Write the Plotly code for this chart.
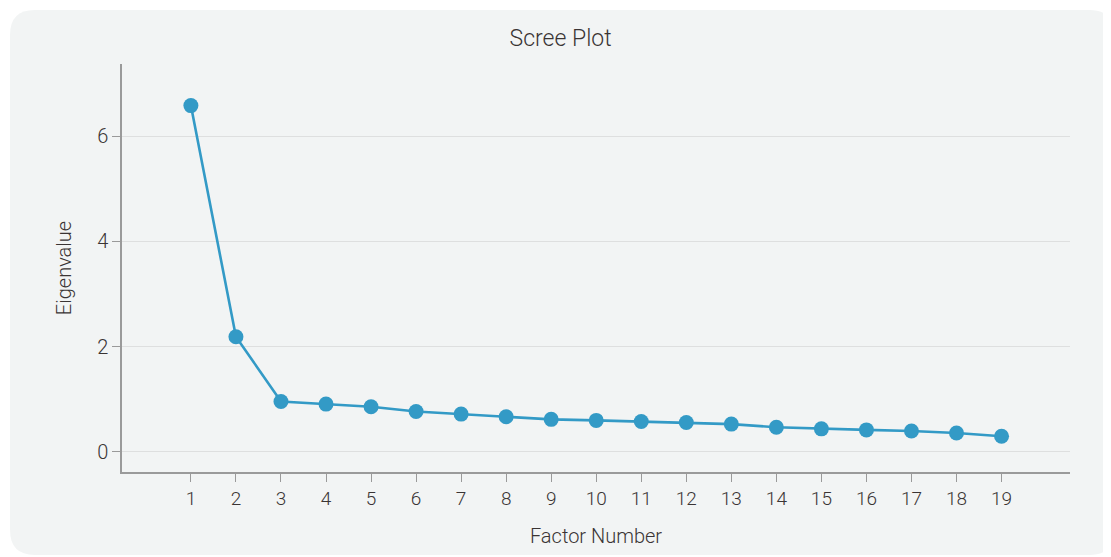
import plotly.graph_objects as go

factors = list(range(1, 20))
eigenvalues = [6.58, 2.19, 0.96, 0.91, 0.86, 0.77, 0.72, 0.67, 0.62, 0.60,
               0.58, 0.56, 0.53, 0.47, 0.44, 0.42, 0.40, 0.36, 0.30]
y_ticks = [0, 2, 4, 6]

line_color = "#339ac6"
card_color = "#f2f4f4"
text_color = "#3a3434"
font_family = "Roboto, Liberation Sans, sans-serif"

fig = go.Figure()
fig.add_trace(go.Scatter(
    x=factors, y=eigenvalues, mode="lines+markers",
    line=dict(color=line_color, width=2.6),
    marker=dict(color=line_color, size=15),
    showlegend=False,
))

# rounded card background (paper coords relative to plot area)
L, R, T, B = -0.1181, 1.0464, 1.1324, -0.2034
rx, ry = 0.026, 0.061
path = (f"M {L+rx},{T} L {R-rx},{T} Q {R},{T} {R},{T-ry} "
        f"L {R},{B+ry} Q {R},{B} {R-rx},{B} L {L+rx},{B} Q {L},{B} {L},{B+ry} "
        f"L {L},{T-ry} Q {L},{T} {L+rx},{T} Z")
fig.add_shape(type="path", path=path, xref="paper", yref="paper",
              fillcolor=card_color, line=dict(width=0), layer="below")

fig.update_layout(
    width=1103, height=549,
    margin=dict(l=114, r=41, t=56, b=85),
    paper_bgcolor="white",
    plot_bgcolor="rgba(0,0,0,0)",
    font=dict(family=font_family, color=text_color, size=18, weight=300),
    title=dict(text="Scree Plot", x=0.501, xref="container", xanchor="center",
               y=0.945, yref="container", yanchor="middle",
               font=dict(size=23, color=text_color, family=font_family, weight=300)),
    xaxis=dict(
        range=[-0.53, 20.52], tickvals=factors, ticktext=[str(f) for f in factors],
        showgrid=False, zeroline=False,
        showline=True, linecolor="#9a9a9a", linewidth=1.5,
        ticks="outside", ticklen=8, tickcolor="#9a9a9a", tickwidth=1,
        tickfont=dict(size=19, color=text_color, family=font_family, weight=300),
        title=dict(text="Factor Number", standoff=20,
                   font=dict(size=20, color=text_color, family=font_family, weight=300)),
    ),
    yaxis=dict(
        range=[-0.38, 7.37], tickvals=y_ticks, ticktext=[str(v) for v in y_ticks],
        showgrid=True, gridcolor="#dedfdf", gridwidth=1, zeroline=False,
        showline=True, linecolor="#9a9a9a", linewidth=1.5,
        ticks="outside", ticklen=8, tickcolor="#9a9a9a", tickwidth=1,
        tickfont=dict(size=20, color=text_color, family=font_family, weight=300),
        title=dict(text="Eigenvalue", standoff=20,
                   font=dict(size=20, color=text_color, family=font_family, weight=300)),
    ),
)

fig.write_html("out.html")
